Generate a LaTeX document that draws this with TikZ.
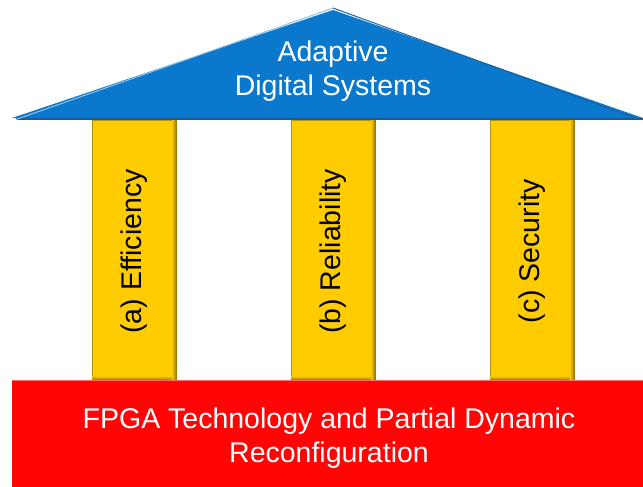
\documentclass[tikz,border=0pt]{standalone}
\usepackage{fontspec}
\setmainfont{Liberation Sans}
\definecolor{roofblue}{HTML}{0A78CC}
\definecolor{roofedge}{HTML}{1A5C9A}
\definecolor{pillaryellow}{HTML}{FFCC00}
\definecolor{pillaredge}{HTML}{B8920A}
\definecolor{pillardark}{HTML}{8A6A00}
\definecolor{basered}{HTML}{FF0505}
\begin{document}
\begin{tikzpicture}[x=1pt,y=-1pt,
  pillar/.style={draw=pillaredge,line width=0.8pt,fill=pillaryellow,minimum width=84pt,minimum height=260pt,inner sep=0pt},
  bevel/.style={left color=pillaryellow,right color=pillardark},
  bevelb/.style={top color=pillaryellow!80!pillardark,bottom color=pillardark},
  lbl/.style={font=\fontsize{28.5}{34}\selectfont,align=center},
  txtw/.style={lbl,text=white}]
\useasboundingbox (0,0) rectangle (643,487);
% pillars
\node[pillar,anchor=north west] (p1) at (92,120) {};
\node[pillar,anchor=north west] (p2) at (291,120) {};
\node[pillar,anchor=north west] (p3) at (490,120) {};
\foreach \p in {p1,p2,p3}{
  \shade[bevel] ([xshift=-5pt]\p.north east) rectangle (\p.south east);
  \shade[bevelb] ([yshift=4pt]\p.south west) rectangle ([xshift=-5pt]\p.south east);
}
\node[lbl,rotate=90] (t1) at ([yshift=-1pt]p1.center) {(a) Efficiency};
\node[lbl,rotate=90] (t2) at ([yshift=-1pt]p2.center) {(b) Reliability};
\node[lbl,rotate=90] (t3) at ([yshift=-1pt]p3.center) {(c) Security};
% roof
\coordinate (apex) at (333,10);
\coordinate (bl) at (12,118);
\coordinate (br) at (643,118);
\fill[roofblue] (bl) -- (apex) -- (br) -- cycle;
\draw[roofedge,line width=1.6pt] ([xshift=4pt,yshift=-0.8pt]bl) -- ([yshift=-0.8pt]br);
\draw[white!55!roofblue,line width=1pt] ([xshift=4pt,yshift=-1.5pt]bl) -- ([yshift=2pt]apex);
\draw[roofedge!80!roofblue,line width=1pt] ([yshift=2pt]apex) -- ([xshift=-4pt,yshift=-1.5pt]br);
\node[txtw] (roof) at (333,71.5) {Adaptive\\Digital Systems};
% base
\fill[basered] (12,380) rectangle (643,487);
\draw[red!60!white,line width=0.8pt] (12,380.5) -- (643,380.5);
\node[txtw] (base) at (329,438.5) {FPGA Technology and Partial Dynamic\\Reconfiguration};
\end{tikzpicture}
\end{document}
